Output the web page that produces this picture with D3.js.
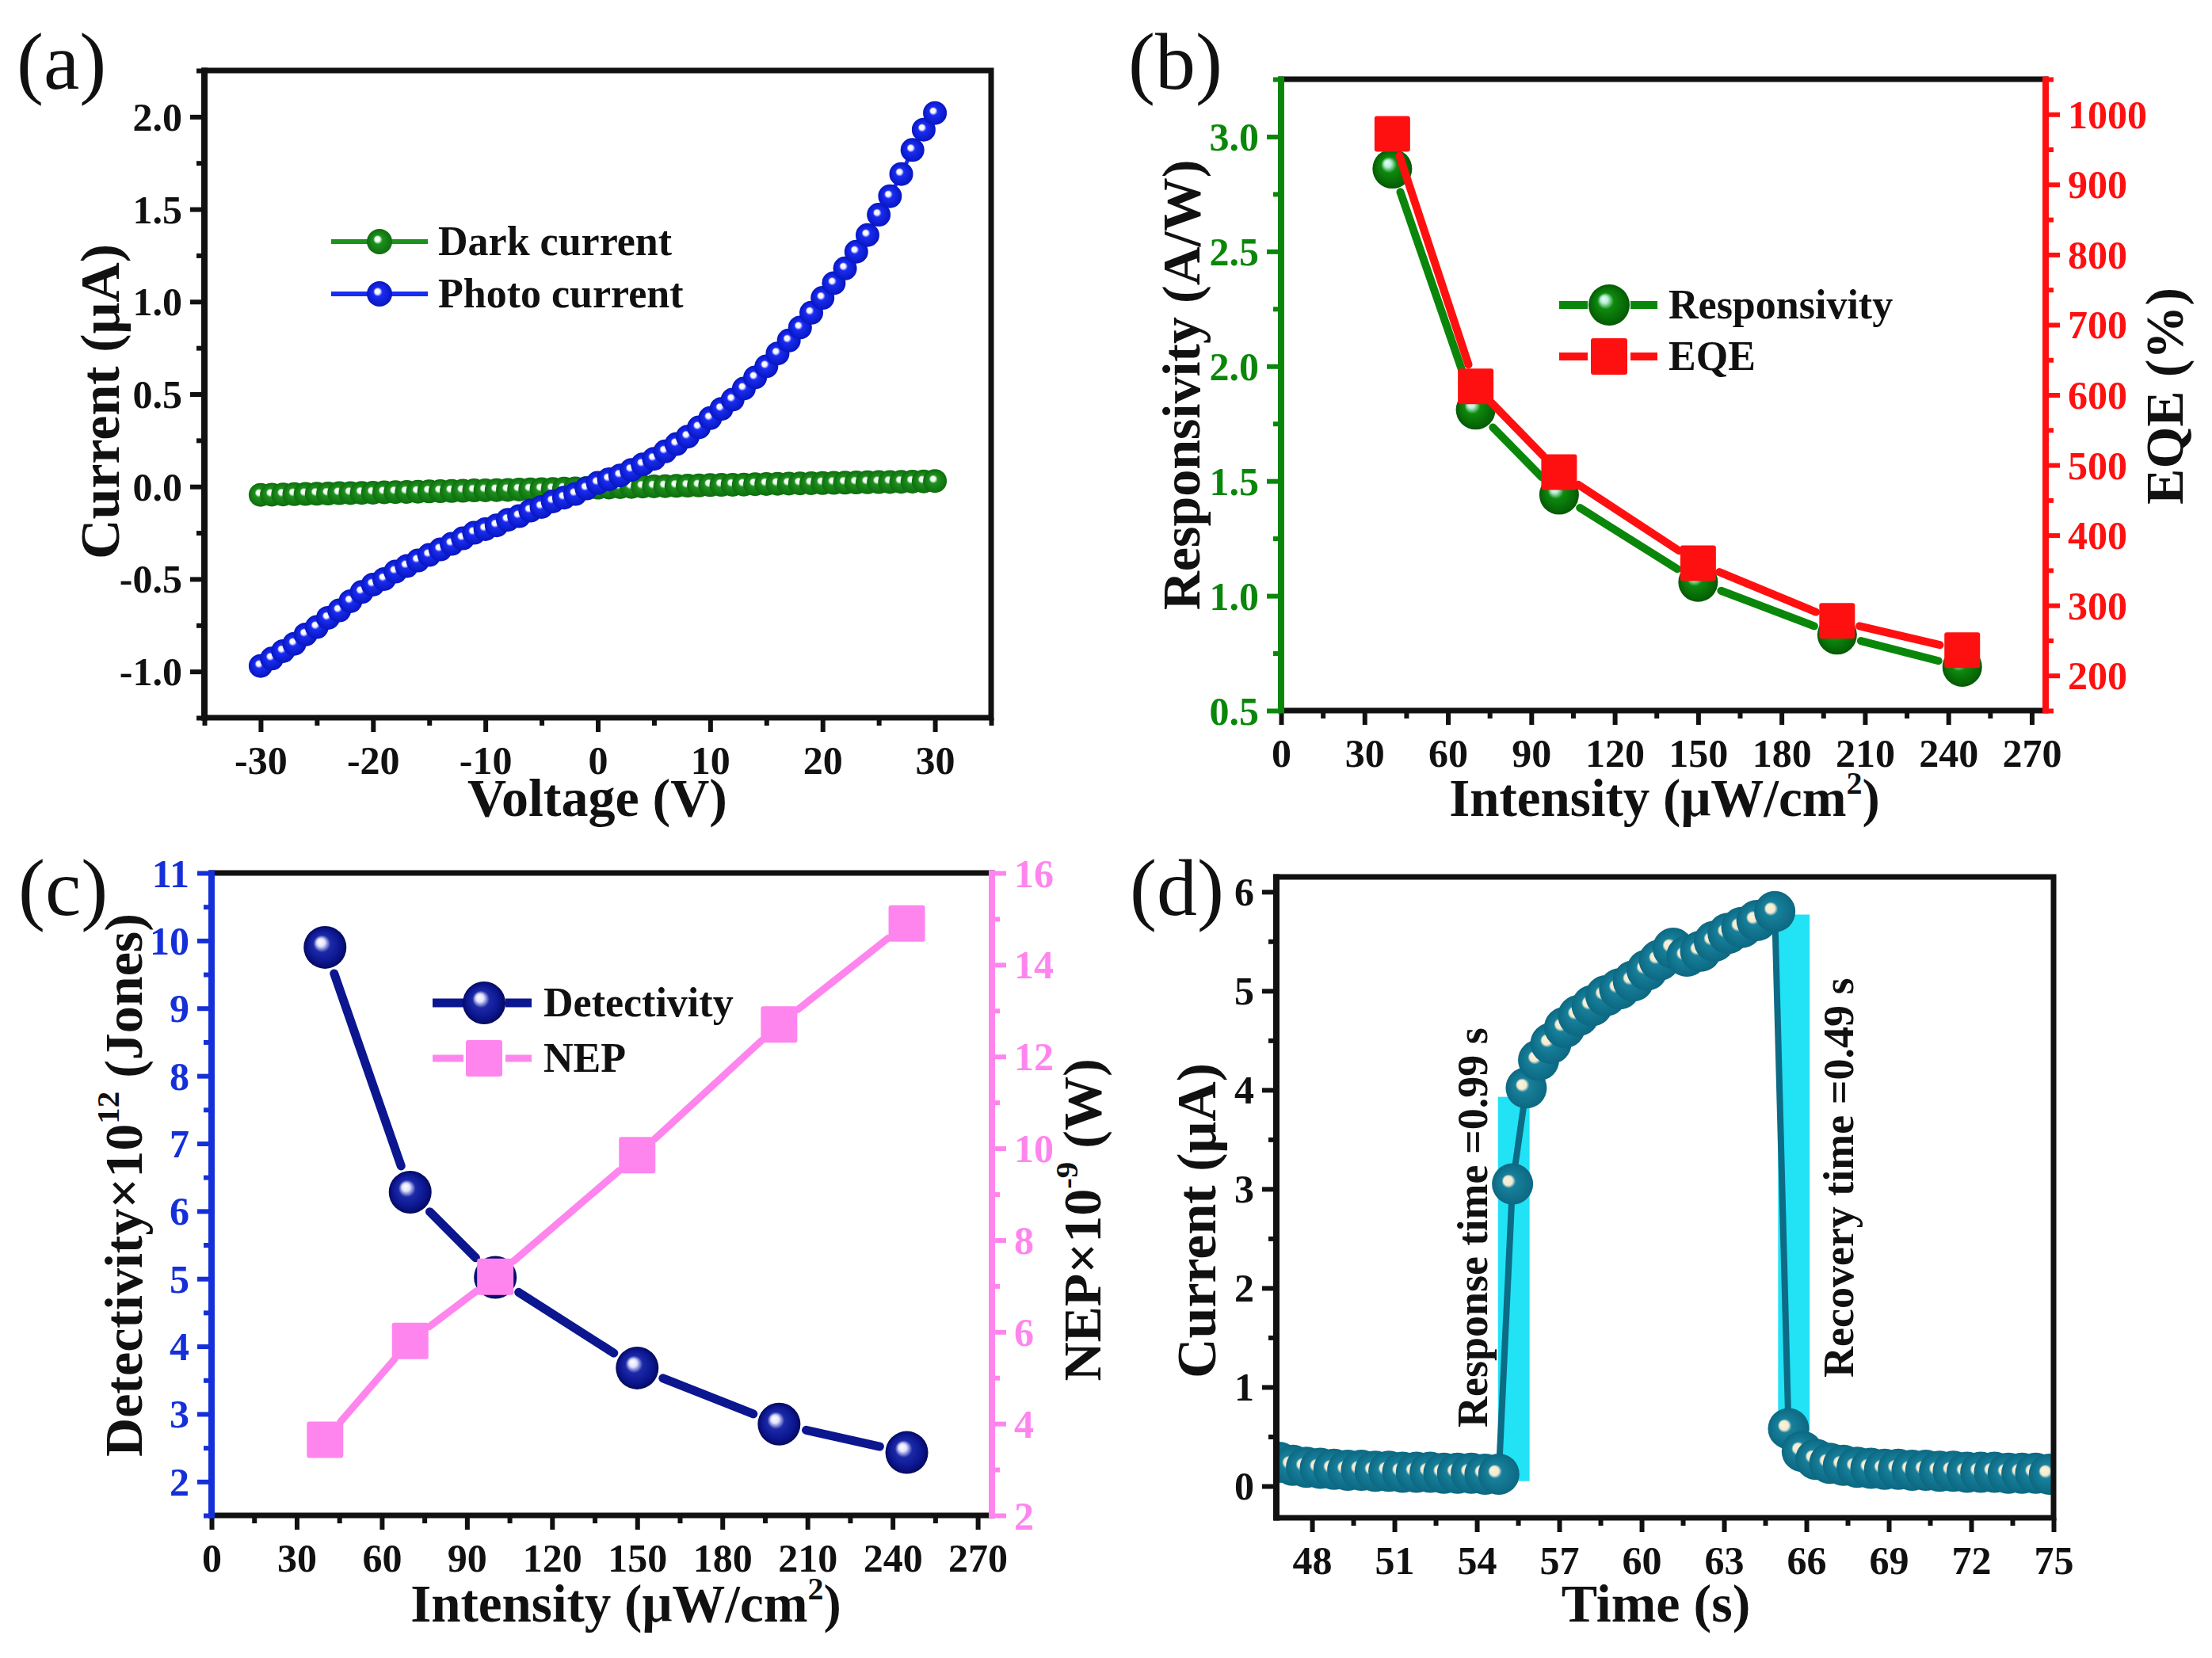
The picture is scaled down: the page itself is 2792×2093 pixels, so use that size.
<!DOCTYPE html>
<html>
<head>
<meta charset="utf-8">
<script src="https://cdn.jsdelivr.net/npm/d3@7"></script>
<style>
  body { margin: 0; background: #fff; }
  text { font-family: "Liberation Serif", "Times New Roman", serif; font-weight: bold; }
</style>
</head>
<body>
<script>
// ---- data ----
// (a) I-V curves
const voltage = [-30,-29,-28,-27,-26,-25,-24,-23,-22,-21,-20,-19,-18,-17,-16,-15,-14,-13,-12,-11,
  -10,-9,-8,-7,-6,-5,-4,-3,-2,-1,0,1,2,3,4,5,6,7,8,9,10,11,12,13,14,15,16,17,18,19,20,
  21,22,23,24,25,26,27,28,29,30];
const darkCurrent = [-0.045,-0.044,-0.043,-0.041,-0.040,-0.039,-0.038,-0.036,-0.035,-0.034,
  -0.033,-0.031,-0.030,-0.029,-0.028,-0.026,-0.025,-0.024,-0.023,-0.021,
  -0.020,-0.019,-0.018,-0.016,-0.015,-0.014,-0.013,-0.011,-0.010,-0.008,
  -0.006,
  -0.005,-0.003,-0.002,0.000,0.001,0.002,0.004,0.005,0.006,0.008,
  0.009,0.010,0.011,0.013,0.014,0.015,0.016,0.017,0.018,0.019,
  0.020,0.021,0.022,0.023,0.024,0.025,0.026,0.027,0.028,0.030];
const photoCurrent = [-0.97,-0.93,-0.89,-0.85,-0.80,-0.76,-0.71,-0.67,-0.62,-0.57,
  -0.53,-0.50,-0.46,-0.43,-0.40,-0.37,-0.34,-0.31,-0.28,-0.25,
  -0.23,-0.21,-0.18,-0.16,-0.13,-0.11,-0.08,-0.06,-0.04,-0.01,
  0.02,
  0.04,0.06,0.09,0.12,0.15,0.19,0.23,0.27,0.32,0.37,
  0.42,0.47,0.53,0.59,0.65,0.72,0.79,0.86,0.94,1.02,
  1.10,1.18,1.27,1.36,1.47,1.57,1.69,1.82,1.93,2.02];

// (b), (c) intensity dependence
const intensity = [40, 70, 100, 150, 200, 245];
const responsivity = [2.86, 1.81, 1.44, 1.06, 0.83, 0.69];
const eqe = [972, 612, 490, 360, 278, 236];
const detectivity = [9.9, 6.28, 5.02, 3.68, 2.85, 2.43];
const nep = [3.65, 5.8, 7.2, 9.85, 12.7, 14.9];

// (d) transient response
const time = [46.8,47.3,47.8,48.3,48.8,49.3,49.8,50.3,50.8,51.3,51.8,52.3,52.8,53.3,53.8,54.3,54.8,
  55.3,55.8,56.25,56.7,57.2,57.7,58.2,58.7,59.2,59.7,60.2,60.65,61.15,61.65,62.15,62.65,63.15,63.65,64.2,64.85,
  65.35,65.85,66.35,66.85,67.35,67.85,68.35,68.85,69.35,69.85,70.35,70.85,71.35,71.85,72.35,72.85,73.35,73.85,74.35,74.85];
const current = [0.24,0.21,0.19,0.18,0.17,0.16,0.16,0.15,0.15,0.14,0.14,0.14,0.13,0.13,0.13,0.12,0.12,
  3.05,4.02,4.30,4.47,4.63,4.75,4.85,4.95,5.02,5.10,5.21,5.31,5.43,5.35,5.40,5.50,5.58,5.64,5.71,5.80,
  0.58,0.35,0.27,0.23,0.21,0.19,0.18,0.17,0.17,0.16,0.16,0.15,0.15,0.14,0.14,0.14,0.13,0.13,0.13,0.12];
const responseWindow = {t: [54.77, 55.92], i: [0.05, 3.93]};
const recoveryWindow = {t: [64.97, 66.12], i: [0.55, 5.77]};

// tick labels
const aTicksX = [-30, -20, -10, 0, 10, 20, 30];
const aTicksY = [-1.0, -0.5, 0.0, 0.5, 1.0, 1.5, 2.0];
const intTicks = [0, 30, 60, 90, 120, 150, 180, 210, 240, 270];
const bTicksL = [0.5, 1.0, 1.5, 2.0, 2.5, 3.0];
const bTicksR = [200, 300, 400, 500, 600, 700, 800, 900, 1000];
const cTicksL = [2, 3, 4, 5, 6, 7, 8, 9, 10, 11];
const cTicksR = [2, 4, 6, 8, 10, 12, 14, 16];
const dTicksX = [48, 51, 54, 57, 60, 63, 66, 69, 72, 75];
const dTicksY = [0, 1, 2, 3, 4, 5, 6];

// ---- drawing ----
const svg = d3.select("body").append("svg").attr("width", 2792).attr("height", 2093);
const defs = svg.append("defs");

function ball(id, stops, fx, fy) {
  const gr = defs.append("radialGradient").attr("id", id)
    .attr("cx", "50%").attr("cy", "50%").attr("r", "50%")
    .attr("fx", fx).attr("fy", fy);
  stops.forEach(s => gr.append("stop").attr("offset", s[0]).attr("stop-color", s[1]));
}
ball("gBlueA", [[0, "#ffffff"], [0.2, "#f4f4ff"], [0.36, "#1a2cf2"], [1, "#0716c0"]], "40%", "38%");
ball("gGreenA", [[0, "#ffffff"], [0.2, "#f0fff0"], [0.36, "#1e901e"], [1, "#0d6e0d"]], "40%", "38%");
ball("gGreenB", [[0, "#eafff8"], [0.18, "#b8f0d8"], [0.4, "#0d8a0d"], [1, "#045a04"]], "36%", "34%");
ball("gNavy", [[0, "#ffffff"], [0.18, "#e4e4ff"], [0.4, "#1c2aa8"], [0.8, "#0a148c"], [1, "#050a5a"]], "38%", "36%");
ball("gTeal", [[0, "#fbf4dc"], [0.22, "#f2ebd2"], [0.34, "#18809b"], [1, "#0c6882"]], "36%", "40%");

const BLACK = "#111";

function frame(x, y) {
  const [x0, x1] = x.range(), [y1, y0] = y.range();
  svg.append("rect").attr("x", x0).attr("y", y0).attr("width", x1 - x0).attr("height", y1 - y0)
    .attr("fill", "none").attr("stroke", BLACK).attr("stroke-width", 7);
}

function drawAxis(kind, scale, pos, majors, minors, fmt, color) {
  const make = {bottom: d3.axisBottom, left: d3.axisLeft, right: d3.axisRight}[kind];
  const tr = kind === "bottom" ? `translate(0,${pos})` : `translate(${pos},0)`;
  if (kind !== "bottom") {
    const [a, b] = scale.range();
    svg.append("line").attr("x1", pos).attr("x2", pos).attr("y1", a + 3.5).attr("y2", b - 3.5)
      .attr("stroke", color).attr("stroke-width", 8);
  }
  const gMin = svg.append("g").attr("transform", tr)
    .call(make(scale).tickValues(minors).tickSize(10).tickFormat(""));
  const gMaj = svg.append("g").attr("transform", tr)
    .call(make(scale).tickValues(majors).tickSize(18).tickFormat(fmt));
  [gMin, gMaj].forEach(g => {
    g.select(".domain").remove();
    g.selectAll("line").attr("stroke", color).attr("stroke-width", 6);
  });
  const t = gMaj.selectAll("text").attr("fill", color).style("font-size", "50px");
  if (kind === "bottom") t.attr("y", 71).attr("dy", null);
  else t.attr("x", kind === "left" ? -28 : 28).attr("dy", "0.34em");
}

// parts: [text, isSuperscript]
function title(x, y, rotate, parts, size) {
  const t = svg.append("text")
    .attr("transform", `translate(${x},${y})` + (rotate ? " rotate(-90)" : ""))
    .attr("text-anchor", "middle").attr("fill", BLACK).style("font-size", size + "px");
  let up = false;
  parts.forEach(p => {
    const s = t.append("tspan").text(p[0]);
    if (p[1]) { s.style("font-size", Math.round(size * 0.6) + "px").attr("dy", -0.42 * size); up = true; }
    else if (up) { s.attr("dy", 0.42 * size); up = false; }
  });
}

function panelLabel(x, y, s) {
  svg.append("text").attr("x", x).attr("y", y).text(s)
    .style("font-size", "102px").style("font-weight", "normal").attr("fill", BLACK);
}

// line segments that stop short of each symbol
function gapLines(pts, gap, color, width) {
  const segs = d3.pairs(pts).map(([a, b]) => {
    const dx = b[0] - a[0], dy = b[1] - a[1], len = Math.hypot(dx, dy);
    const ux = dx / len, uy = dy / len;
    return [a[0] + ux * gap, a[1] + uy * gap, b[0] - ux * gap, b[1] - uy * gap];
  });
  svg.append("g").selectAll("line").data(segs).join("line")
    .attr("x1", d => d[0]).attr("y1", d => d[1]).attr("x2", d => d[2]).attr("y2", d => d[3])
    .attr("stroke", color).attr("stroke-width", width).attr("stroke-linecap", "round");
}

function balls(pts, r, fill) {
  svg.append("g").selectAll("circle").data(pts).join("circle")
    .attr("cx", d => d[0]).attr("cy", d => d[1]).attr("r", r).attr("fill", fill);
}

function squares(pts, s, fill) {
  svg.append("g").selectAll("rect").data(pts).join("rect")
    .attr("x", d => d[0] - s / 2).attr("y", d => d[1] - s / 2)
    .attr("width", s).attr("height", s).attr("rx", 3).attr("fill", fill);
}

function legendText(x, y, s) {
  svg.append("text").attr("x", x).attr("y", y + 17).text(s)
    .style("font-size", "52px").attr("fill", BLACK);
}

const fmt1 = d => d.toFixed(1);
const fmt0 = d => String(d);

// ===== (a) =====
{
  const x = d3.scaleLinear().domain([-35, 35]).range([258, 1251]);
  const y = d3.scaleLinear().domain([-1.25, 2.25]).range([906, 89]);
  frame(x, y);
  drawAxis("bottom", x, 906, aTicksX, [-35, -25, -15, -5, 5, 15, 25, 35], fmt0, BLACK);
  drawAxis("left", y, 258, aTicksY, [-1.25, -0.75, -0.25, 0.25, 0.75, 1.25, 1.75, 2.25], fmt1, BLACK);
  const dark = voltage.map((v, i) => [x(v), y(darkCurrent[i])]);
  const photo = voltage.map((v, i) => [x(v), y(photoCurrent[i])]);
  svg.append("path").attr("d", d3.line()(dark)).attr("fill", "none").attr("stroke", "#1e901e").attr("stroke-width", 5);
  balls(dark, 15, "url(#gGreenA)");
  svg.append("path").attr("d", d3.line()(photo)).attr("fill", "none").attr("stroke", "#1a2cf2").attr("stroke-width", 5);
  balls(photo, 15, "url(#gBlueA)");
  // legend
  svg.append("line").attr("x1", 418).attr("x2", 540).attr("y1", 305).attr("y2", 305).attr("stroke", "#1e901e").attr("stroke-width", 6);
  balls([[479, 305]], 16, "url(#gGreenA)");
  legendText(553, 305, "Dark current");
  svg.append("line").attr("x1", 418).attr("x2", 540).attr("y1", 371).attr("y2", 371).attr("stroke", "#1a2cf2").attr("stroke-width", 6);
  balls([[479, 371]], 16, "url(#gBlueA)");
  legendText(553, 371, "Photo current");
  title(150, 507, true, [["Current (μA)"]], 70);
  title(754, 1030, false, [["Voltage (V)"]], 68);
  panelLabel(21, 112, "(a)");
}

// ===== (b) =====
{
  const GREEN = "#0a870a", RED = "#ff1010";
  const x = d3.scaleLinear().domain([0, 275]).range([1617, 2582]);
  const yL = d3.scaleLinear().domain([0.5, 3.25]).range([897, 100]);
  const yR = d3.scaleLinear().domain([150, 1050]).range([897, 100]);
  frame(x, yL);
  drawAxis("bottom", x, 897, intTicks, d3.range(15, 275, 30), fmt0, BLACK);
  drawAxis("left", yL, 1617, bTicksL, [0.75, 1.25, 1.75, 2.25, 2.75, 3.25], fmt1, GREEN);
  drawAxis("right", yR, 2582, bTicksR, d3.range(150, 1051, 100), fmt0, RED);
  const rp = intensity.map((v, i) => [x(v), yL(responsivity[i])]);
  const ep = intensity.map((v, i) => [x(v), yR(eqe[i])]);
  gapLines(rp, 31, GREEN, 10);
  balls(rp, 25, "url(#gGreenB)");
  gapLines(ep, 29, RED, 10);
  squares(ep, 45, RED);
  // legend
  [[1968, 2004], [2058, 2092]].forEach(s =>
    svg.append("line").attr("x1", s[0]).attr("x2", s[1]).attr("y1", 385).attr("y2", 385)
      .attr("stroke", GREEN).attr("stroke-width", 10));
  balls([[2031, 385]], 26, "url(#gGreenB)");
  legendText(2106, 385, "Responsivity");
  [[1968, 2004], [2058, 2092]].forEach(s =>
    svg.append("line").attr("x1", s[0]).attr("x2", s[1]).attr("y1", 450).attr("y2", 450)
      .attr("stroke", RED).attr("stroke-width", 10));
  squares([[2031, 450]], 46, RED);
  legendText(2106, 450, "EQE");
  title(1514, 486, true, [["Responsivity (A/W)"]], 68);
  title(2755, 500, true, [["EQE (%)"]], 68);
  title(2101, 1030, false, [["Intensity (μW/cm"], ["2", true], [")"]], 67);
  panelLabel(1424, 112, "(b)");
}

// ===== (c) =====
{
  const BLUE = "#1530d8", PINK = "#ff85ee", NAVY = "#0c168f";
  const x = d3.scaleLinear().domain([0, 275]).range([267, 1252]);
  const yL = d3.scaleLinear().domain([1.5, 11]).range([1913, 1102]);
  const yR = d3.scaleLinear().domain([2, 16]).range([1913, 1102]);
  frame(x, yL);
  drawAxis("bottom", x, 1913, intTicks, d3.range(15, 275, 30), fmt0, BLACK);
  drawAxis("left", yL, 267, cTicksL, d3.range(1.5, 11, 1), fmt0, BLUE);
  drawAxis("right", yR, 1252, cTicksR, d3.range(3, 16, 2), fmt0, PINK);
  const dp = intensity.map((v, i) => [x(v), yL(detectivity[i])]);
  const np = intensity.map((v, i) => [x(v), yR(nep[i])]);
  gapLines(dp, 35, NAVY, 11);
  balls(dp, 27, "url(#gNavy)");
  gapLines(np, 30, PINK, 9);
  squares(np, 46, PINK);
  // legend
  [[546, 585], [638, 671]].forEach(s =>
    svg.append("line").attr("x1", s[0]).attr("x2", s[1]).attr("y1", 1266).attr("y2", 1266)
      .attr("stroke", NAVY).attr("stroke-width", 11));
  balls([[611, 1266]], 27, "url(#gNavy)");
  legendText(686, 1266, "Detectivity");
  [[546, 585], [638, 671]].forEach(s =>
    svg.append("line").attr("x1", s[0]).attr("x2", s[1]).attr("y1", 1336).attr("y2", 1336)
      .attr("stroke", PINK).attr("stroke-width", 9));
  squares([[611, 1336]], 46, PINK);
  legendText(686, 1336, "NEP");
  title(179, 1496, true, [["Detectivity×10"], ["12", true], [" (Jones)"]], 68);
  title(1389, 1540, true, [["NEP×10"], ["-9", true], [" (W)"]], 68);
  title(790, 2047, false, [["Intensity (μW/cm"], ["2", true], [")"]], 67);
  panelLabel(23, 1155, "(c)");
}

// ===== (d) =====
{
  const TEAL = "#0d6b85", CYAN = "#22e2f6";
  const x = d3.scaleLinear().domain([46.7, 75]).range([1611, 2592]);
  const y = d3.scaleLinear().domain([-0.32, 6.15]).range([1916, 1107]);
  defs.append("clipPath").attr("id", "clipD").append("rect")
    .attr("x", 1611).attr("y", 1107).attr("width", 2592 - 1611).attr("height", 1916 - 1107);
  [responseWindow, recoveryWindow].forEach(w =>
    svg.append("rect").attr("x", x(w.t[0])).attr("y", y(w.i[1]))
      .attr("width", x(w.t[1]) - x(w.t[0])).attr("height", y(w.i[0]) - y(w.i[1]))
      .attr("fill", CYAN));
  const pts = time.map((t, i) => [x(t), y(current[i])]);
  const g = svg.append("g").attr("clip-path", "url(#clipD)");
  g.append("path").attr("d", d3.line()(pts)).attr("fill", "none").attr("stroke", TEAL).attr("stroke-width", 8);
  g.selectAll("circle").data(pts).join("circle")
    .attr("cx", d => d[0]).attr("cy", d => d[1]).attr("r", 26).attr("fill", "url(#gTeal)");
  frame(x, y);
  drawAxis("bottom", x, 1916, dTicksX, d3.range(49.5, 75, 3), fmt0, BLACK);
  drawAxis("left", y, 1611, dTicksY, d3.range(0.5, 6, 1), fmt0, BLACK);
  svg.append("text").attr("transform", "translate(1877,1802) rotate(-90)")
    .text("Response time =0.99 s").style("font-size", "54px").attr("fill", BLACK);
  svg.append("text").attr("transform", "translate(2339,1739) rotate(-90)")
    .text("Recovery time =0.49 s").style("font-size", "54px").attr("fill", BLACK);
  title(1534, 1541, true, [["Current (μA)"]], 70);
  title(2090, 2047, false, [["Time (s)"]], 68);
  panelLabel(1426, 1155, "(d)");
}
</script>
</body>
</html>
